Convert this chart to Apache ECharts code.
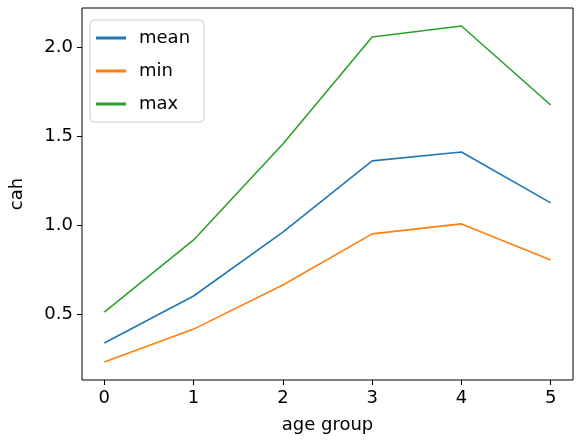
<!DOCTYPE html>
<html><head><meta charset="utf-8">
<script src="https://cdn.jsdelivr.net/npm/echarts@6/dist/echarts.min.js"></script>
<style>body{margin:0}#c{width:584px;height:444px}</style></head>
<body><div id="c"></div>
<script>
const xs = [0,1,2,3,4,5];
const meanV = [0.337,0.601,0.96,1.36,1.41,1.124];
const minV = [0.23,0.415,0.663,0.95,1.006,0.803];
const maxV = [0.511,0.916,1.455,2.056,2.118,1.674];
const yTicks = [0.5,1.0,1.5,2.0];
const pair = a => a.map((v,i)=>[xs[i],v]);
const f = 'DejaVu Sans';
const chart = echarts.init(document.getElementById('c'));
const ser = (n,d,c)=>({name:n,type:'line',data:pair(d),showSymbol:false,lineStyle:{color:c,width:1.6},itemStyle:{color:c}});
chart.setOption({
 animation:false,
 grid:{left:78,right:11,top:8,bottom:64,show:true,borderColor:'#000',borderWidth:1},
 legend:{left:90,top:20,orient:'vertical',itemWidth:30,itemHeight:3,itemGap:15,padding:[9,14,9,6],
  borderColor:'#ccc',borderWidth:1,borderRadius:4,icon:'rect',
  textStyle:{fontFamily:f,fontSize:18,color:'#000',padding:[0,0,0,8]}},
 xAxis:{type:'value',min:-0.25,max:5.25,name:'age group',nameLocation:'middle',nameGap:36,
  nameTextStyle:{fontFamily:f,fontSize:18,color:'#000'},
  axisLine:{show:false,onZero:false},splitLine:{show:false},
  axisTick:{show:true,customValues:xs,length:5,lineStyle:{color:'#000'}},
  axisLabel:{customValues:xs,fontFamily:f,fontSize:18,color:'#000',margin:9}},
 yAxis:{type:'value',min:0.129,max:2.219,name:'cah',nameLocation:'middle',nameGap:56,
  nameTextStyle:{fontFamily:f,fontSize:18,color:'#000'},
  axisLine:{show:false,onZero:false},splitLine:{show:false},
  axisTick:{show:true,customValues:yTicks,length:5,lineStyle:{color:'#000'}},
  axisLabel:{customValues:yTicks,fontFamily:f,fontSize:18,color:'#000',margin:9,formatter:v=>v.toFixed(1)}},
 series:[ser('mean',meanV,'#1f77b4'),ser('min',minV,'#ff7f0e'),ser('max',maxV,'#2ca02c')]
});
</script></body></html>
